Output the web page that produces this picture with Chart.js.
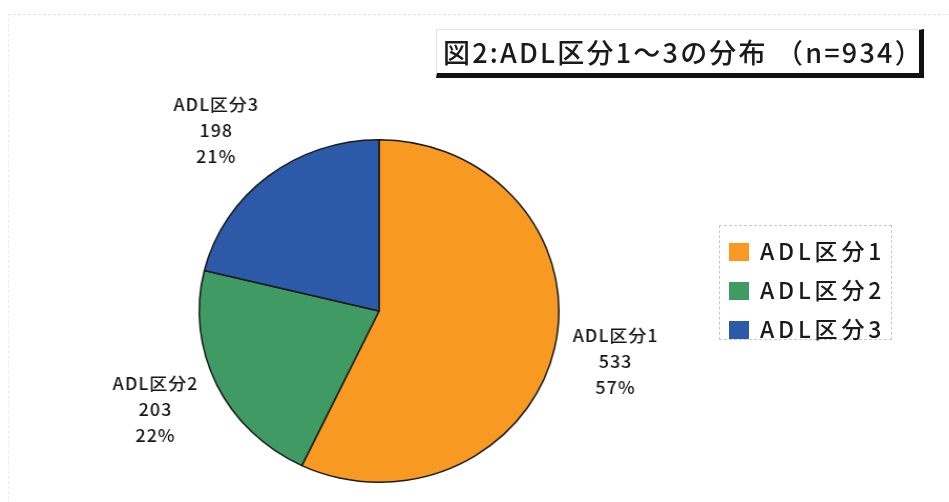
<!DOCTYPE html>
<html lang="ja">
<head>
<meta charset="utf-8">
<script src="https://cdn.jsdelivr.net/npm/chart.js@4/dist/chart.umd.min.js"></script>
<style>
  html, body { margin: 0; padding: 0; background: #fff; }
  body { width: 949px; height: 502px; position: relative; overflow: hidden;
         font-family: "Noto Sans CJK JP", "Noto Sans", sans-serif; color: #1a1a1a; }
  .sheet { position: absolute; left: 8px; top: 14px; right: -2px; bottom: -2px;
           border-top: 1px dashed #e2e2e2; border-left: 1px dashed #ececec; }
  .pie-wrap { position: absolute; left: 0; top: 0; width: 904px; height: 502px;
              transform: scaleX(1.05); transform-origin: 0 0; }
  .title { position: absolute; left: 436px; top: 29px; width: 476px; height: 43px;
           border-top: 1px solid #e6e6e6; border-left: 1px solid #e6e6e6;
           border-right: 5px solid #111; border-bottom: 5px solid #111;
           font-size: 27px; font-weight: 500; line-height: 43px; white-space: nowrap;
           padding-left: 6px; box-sizing: content-box; letter-spacing: 2.2px; overflow: hidden; }
  .legend { position: absolute; left: 719px; top: 225px; width: 173px; height: 115px;
            border: 1px dashed #c8c8c8; box-sizing: border-box; }
  .legend div { position: absolute; left: 9px; height: 24px; line-height: 24px;
                font-size: 23px; font-weight: 500; white-space: nowrap; letter-spacing: 3.8px; }
  .legend span { display: inline-block; width: 20px; height: 18px; margin-right: 11px;
                 vertical-align: -1px; }
</style>
</head>
<body>
<div class="sheet"></div>
<div class="pie-wrap"><canvas id="pie" width="904" height="502"></canvas></div>
<div class="title" id="title"></div>
<div class="legend" id="legend"></div>
<script>
const categories = ["ADL区分1", "ADL区分2", "ADL区分3"];
const counts = [533, 203, 198];
const colors = ["#F89A22", "#3F9A63", "#2C5AA8"];
const titleText = "図2:ADL区分1～3の分布 （n=934）";

const total = counts.reduce((a, b) => a + b, 0);

document.getElementById("title").textContent = titleText;

// legend box on the right
const legendEl = document.getElementById("legend");
categories.forEach((name, i) => {
  const row = document.createElement("div");
  row.style.top = 12 + i * 39 + "px";
  const sw = document.createElement("span");
  sw.style.background = colors[i];
  row.appendChild(sw);
  row.appendChild(document.createTextNode(name));
  legendEl.appendChild(row);
});

// name / count / percent outside each slice
const outsideLabels = {
  id: "outsideLabels",
  afterDatasetsDraw(chart) {
    const ctx = chart.ctx;
    const arcs = chart.getDatasetMeta(0).data;
    ctx.save();
    ctx.font = '500 17px "Noto Sans CJK JP", sans-serif';
    ctx.letterSpacing = "1px";
    ctx.fillStyle = "#151515";
    ctx.textAlign = "center";
    ctx.textBaseline = "middle";
    arcs.forEach((arc, i) => {
      const { x, y, startAngle, endAngle, outerRadius } = arc.getProps(
        ["x", "y", "startAngle", "endAngle", "outerRadius"], true);
      const mid = (startAngle + endAngle) / 2;
      const s = Math.sin(mid);
      const lx = x + Math.cos(mid) * (outerRadius + 58 + 35 * s * s);
      const ly = y + s * (outerRadius + 58);
      const pct = Math.round((counts[i] / total) * 100) + "%";
      ctx.fillText(categories[i], lx, ly - 26);
      ctx.fillText(String(counts[i]), lx, ly);
      ctx.fillText(pct, lx, ly + 26);
    });
    ctx.restore();
  },
};

new Chart(document.getElementById("pie"), {
  type: "pie",
  data: {
    labels: categories,
    datasets: [{
      data: counts,
      backgroundColor: colors,
      borderColor: "#1a1a1a",
      borderWidth: 1.5,
    }],
  },
  options: {
    responsive: false,
    animation: false,
    layout: { padding: { top: 139, bottom: 19, left: 189, right: 371 } },
    plugins: {
      legend: { display: false },
      tooltip: { enabled: false },
    },
  },
  plugins: [outsideLabels],
});
</script>
</body>
</html>
